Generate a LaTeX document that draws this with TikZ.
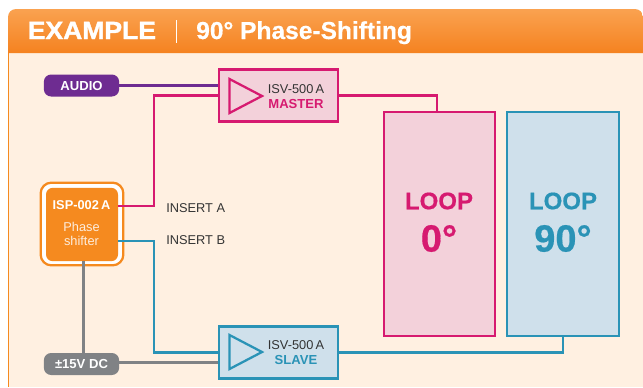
\documentclass[tikz,border=0pt]{standalone}
\usepackage{fontspec}
\usepackage{tikz}
\usepackage{xcolor}
\setmainfont{Liberation Sans}
\newfontfamily\heavyfont[BoldFeatures={FakeBold=1.6,FakeStretch=1.07}]{Liberation Sans}
\newfontfamily\thickfont[BoldFeatures={FakeBold=0.5}]{Liberation Sans}
\definecolor{panel}{RGB}{255,240,225}
\definecolor{accent}{RGB}{245,138,31}
\definecolor{headtop}{RGB}{250,162,80}
\definecolor{headlow}{RGB}{245,130,32}
\definecolor{magent}{RGB}{214,26,112}
\definecolor{softpink}{RGB}{243,209,218}
\definecolor{teal}{RGB}{42,147,182}
\definecolor{softteal}{RGB}{207,224,235}
\definecolor{violet}{RGB}{110,44,145}
\definecolor{midgray}{RGB}{128,130,133}
\tikzset{
    pill/.style={draw=none, rounded corners=5.5pt, text=white, inner sep=0pt, minimum width=56.5pt, minimum height=16.5pt, font=\fontsize{9.8}{11}\selectfont\bfseries},
    ampbox/.style={draw=#1, line width=1.7pt, minimum width=89pt, minimum height=39pt, inner sep=0pt},
    loopbox/.style={draw=#1, line width=1.7pt, minimum width=83.5pt, minimum height=168pt, inner sep=0pt},
    wire/.style={line width=1.7pt, line join=miter},
    amptext/.style={inner sep=0pt, align=center, font=\fontsize{9.6}{11.2}\selectfont},
    looptext/.style={inner sep=0pt, font=\thickfont\fontsize{18}{20}\selectfont\bfseries},
    loopangle/.style={inner sep=0pt, font=\thickfont\fontsize{28.5}{30}\selectfont\bfseries},
    insert/.style={inner sep=0pt, anchor=west, text=black!80, font=\fontsize{9.6}{11}\selectfont}
}
\begin{document}
\begin{tikzpicture}[x=0.75pt, y=-0.75pt]
    \useasboundingbox (0,0) rectangle (643,387);

    % Panel and header
    \fill[panel] (8,53) rectangle (643,387);
    \draw[accent, line width=1pt] (8.5,53) -- (8.5,387);
    \shade[top color=headtop, bottom color=headlow, rounded corners=6pt] (8,53) -- (8,9) -- (643,9) [sharp corners] -- (643,53) -- cycle;
    \node[white, anchor=base west, inner sep=0pt, font=\heavyfont\fontsize{18.6}{20}\selectfont\bfseries] (title) at (27.5,39) {EXAMPLE};
    \node[white, anchor=base west, inner sep=0pt, font=\thickfont\fontsize{18.4}{20}\selectfont\bfseries] (subtitle) at (196,39) {90° Phase-Shifting};
    \draw[white, line width=0.7pt] (176,20) -- (176,43);

    % Sources
    \node[pill, fill=violet] (audio) at (81.5,85.5) {AUDIO};
    \node[pill, fill=midgray] (power) at (81.5,364) {±15V DC};

    % Amplifiers
    \node[ampbox=magent, fill=softpink] (master) at (278.5,95.5) {};
    \node[ampbox=teal, fill=softteal] (slave) at (278.5,352.5) {};
    \node[amptext, text=black!80] (mastertxt) at (296,96.5) {ISV-500\,A\\[-0.4pt]\textcolor{magent}{\bfseries\fontsize{9.8}{11}\selectfont MASTER}};
    \node[amptext, text=black!80] (slavetxt) at (296,352.5) {ISV-500\,A\\[-0.4pt]\textcolor{teal}{\bfseries\fontsize{9.8}{11}\selectfont SLAVE}};
    \draw[magent, line width=1.7pt, line join=miter] (229.5,79) -- (262,96) -- (229.5,113) -- cycle;
    \draw[teal, line width=1.7pt, line join=miter] (229.5,335) -- (262,352) -- (229.5,369) -- cycle;

    % Loops
    \node[loopbox=magent, fill=softpink] (loopzero) at (439.5,224) {};
    \node[loopbox=teal, fill=softteal] (loopninety) at (563,224) {};
    \node[looptext, text=magent] (zerotxt) at (439,201) {LOOP};
    \node[loopangle, text=magent] (zeroval) at (439,238.5) {0°};
    \node[looptext, text=teal] (ninetytxt) at (563,201) {LOOP};
    \node[loopangle, text=teal] (ninetyval) at (563,238.5) {90°};

    % Phase shifter
    \node[draw=accent, fill=white, line width=1.7pt, rounded corners=8pt, minimum width=62pt, minimum height=62pt, inner sep=0pt] (shifterframe) at (82,224) {};
    \node[fill=accent, rounded corners=5pt, minimum width=54pt, minimum height=55pt, inner sep=0pt] (shifter) at (82,224.5) {};
    \node[inner sep=0pt, text=white, font=\fontsize{9.6}{11}\selectfont\bfseries] (shiftername) at (81.5,205) {ISP-002\,A};
    \node[inner sep=0pt, align=center, text=white!85!accent, font=\fontsize{9.6}{10.6}\selectfont] (shiftertxt) at (81.5,234) {Phase\\shifter};
    \coordinate (pinA) at (118,206);
    \coordinate (pinB) at (118,241);

    % Wiring
    \draw[violet, wire] (audio.east) -- (audio.east -| master.west);
    \draw[magent, wire] (pinA) -- (154,206) -- (154,95.5) -- (master.west);
    \draw[magent, wire] (master.east) -| (loopzero.north -| 437,0);
    \draw[teal, wire] (pinB) -- (154,241) -- (154,352.5) -- (slave.west);
    \draw[teal, wire] (slave.east) -| (loopninety.south);
    \draw[midgray, wire] (83.5,261) -- (83.5,353);
    \draw[midgray, wire] ([yshift=1.1pt]power.east) -- ([yshift=1.1pt]power.east -| slave.west);

    % Inserts
    \node[insert] (insertA) at (166,208) {INSERT A};
    \node[insert] (insertB) at (166,240) {INSERT B};
\end{tikzpicture}
\end{document}
